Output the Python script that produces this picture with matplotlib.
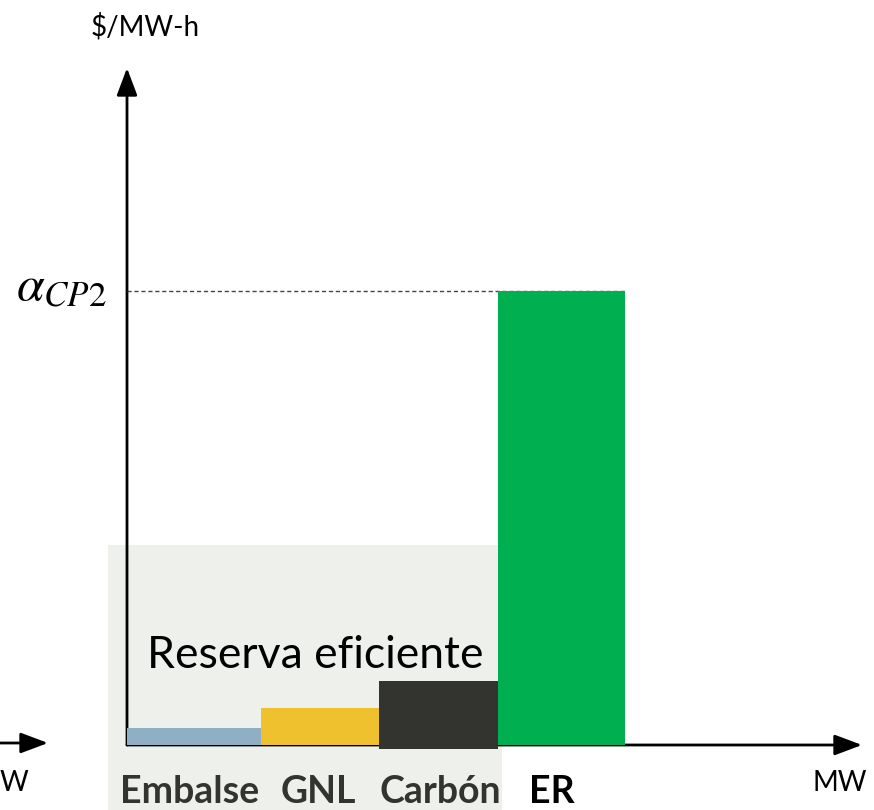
import matplotlib.pyplot as plt
from matplotlib.patches import Rectangle, FancyArrowPatch

plt.rcParams['font.family'] = ['Lato', 'DejaVu Sans']
plt.rcParams['mathtext.fontset'] = 'stix'

# merit order blocks (MW width, $/MW-h height)
names = ['Embalse', 'GNL', 'Carbón', 'ER']
widths = [134, 118, 119, 127]
heights = [17, 37, 68, 454]
bottoms = [0, 0, -4, 0]
colors = ['#8FB0C4', '#F0C12E', '#33342F', '#00B050']
label_colors = ['#33342F', '#33342F', '#33342F', '#000000']
label_shift = [-4, -2, 2, -10]
alpha_cp2 = 454

fig = plt.figure(figsize=(8.74, 8.10), dpi=100)
ax = fig.add_axes([0, 0, 1, 1])
ax.set_xlim(-127, 747)
ax.set_ylim(-65, 745)
ax.axis('off')

# efficient reserve shaded area
ax.add_patch(Rectangle((-19, -65), 394, 265, facecolor='#EEF0EB', edgecolor='none', zorder=0))
ax.text(188, 90, 'Reserva eficiente', fontsize=32, ha='center', va='center', zorder=3)

# axes arrows
arr = dict(arrowstyle='-|>,head_length=1.2,head_width=0.45', color='black', lw=2, mutation_scale=14)
ax.add_patch(FancyArrowPatch((0, 0), (0, 677), zorder=1, shrinkA=0, shrinkB=0, **arr))
ax.add_patch(FancyArrowPatch((0, 0), (735, 0), zorder=1, shrinkA=0, shrinkB=0, **arr))
ax.add_patch(FancyArrowPatch((-127, 2), (-79, 2), zorder=1, shrinkA=0, shrinkB=0, **arr))

lefts = [sum(widths[:i]) for i in range(len(widths))]
ax.bar(lefts, heights, width=widths, bottom=bottoms, align='edge', color=colors, zorder=2)

ax.plot([0, lefts[-1] + widths[-1]], [alpha_cp2, alpha_cp2], ls=(0, (3, 2)), color='#444444', lw=1, zorder=1)
ax.text(-20, alpha_cp2 + 5, r'$\alpha_{CP2}$', fontsize=36, ha='right', va='center')

ax.text(18, 718, '$/MW-h', fontsize=20, ha='center', va='center')
ax.text(713, -38, 'MW', fontsize=20, ha='center', va='center')
ax.text(-127, -38, 'W', fontsize=20, ha='left', va='center')

for l, w, n, c, s in zip(lefts, widths, names, label_colors, label_shift):
    ax.text(l + w / 2 + s, -47, n, fontsize=27, fontweight='bold', color=c, ha='center', va='center')

fig.savefig('out.png', dpi=100)
